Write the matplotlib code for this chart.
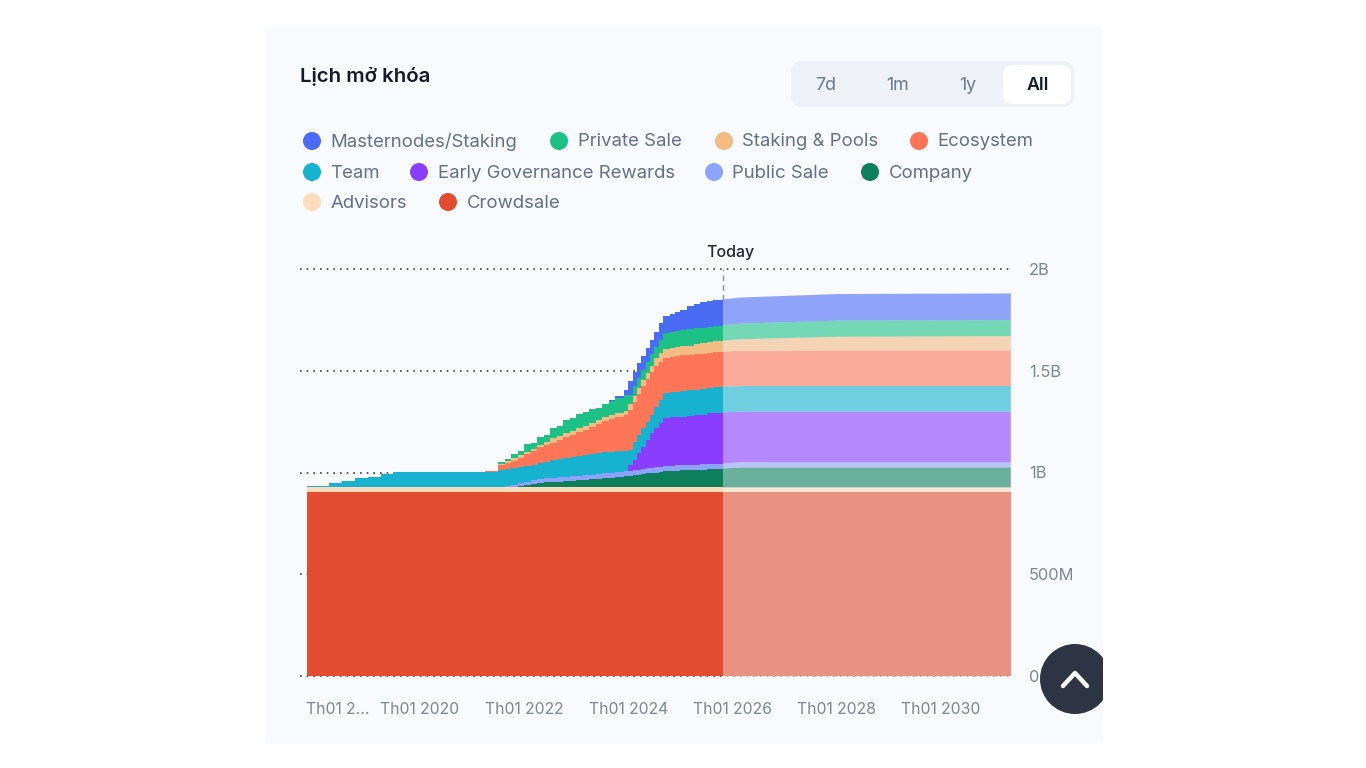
import matplotlib
matplotlib.use('Agg')
import matplotlib.pyplot as plt
import numpy as np
from matplotlib.patches import Circle, FancyBboxPatch, Rectangle
from matplotlib.transforms import ScaledTranslation

plt.rcParams['font.family'] = ['Inter', 'DejaVu Sans']

WIDTH, HEIGHT = 1366, 768
CARD_COLOR = '#F8FAFD'

# Dates as decimal years, values are unlocked tokens in millions
past_dates = [2017.83, 2018.25, 2018.5, 2018.75, 2019.0, 2019.25, 2019.5, 2021.25,
              2021.5, 2021.625, 2021.75, 2021.875, 2022.0, 2022.125, 2022.25, 2022.375, 2022.5, 2022.625,
              2022.75, 2022.875, 2023.0, 2023.125, 2023.25, 2023.375, 2023.5, 2023.625, 2023.75, 2023.92,
              2024.0, 2024.083, 2024.167, 2024.25, 2024.333, 2024.417, 2024.5, 2024.583, 2024.667,
              2024.8, 2024.9, 2025.0, 2025.12, 2025.25, 2025.38, 2025.5, 2025.63, 2025.81]
crowdsale_past = [904] * 46
advisors_past = [23] * 46
company_past = [0, 0, 0, 0, 0, 0, 0, 0,
                0, 2, 4, 7, 11, 16, 22, 24, 26, 28, 31, 33, 36, 38, 41, 43, 46, 48, 51, 56,
                58, 60, 63, 65, 69, 70, 73, 76, 79,
                81, 82, 83, 84, 85, 87, 90, 91, 93]
public_past = [0, 0, 0, 0, 0, 0, 0, 0,
               0, 3, 7, 12, 17, 19, 21, 21, 22, 22, 22, 22, 22, 22, 22, 23, 25, 25, 25, 22,
               22, 23, 24, 25, 25, 26, 26, 26, 26,
               26, 27, 27, 27, 27, 26, 25, 25, 24]
governance_past = [0, 0, 0, 0, 0, 0, 0, 0,
                   0, 0, 0, 0, 0, 0, 0, 0, 0, 0, 0, 0, 0, 0, 0, 0, 0, 0, 0, 0,
                   29, 51, 82, 110, 139, 171, 193, 215, 237,
                   237, 238, 238, 240, 243, 245, 248, 250, 252]
team_past = [6, 20, 32, 44, 52, 64, 75, 75,
             85, 86, 86, 82, 79, 77, 76, 81, 86, 88, 91, 93, 96, 98, 101, 101, 101, 102, 103, 103,
             74, 90, 88, 92, 90, 88, 105, 112, 121,
             123, 124, 125, 125, 125, 125, 125, 125, 126]
ecosystem_past = [0, 0, 0, 0, 0, 0, 0, 5,
                  25, 29, 33, 45, 57, 68, 79, 82, 85, 93, 101, 110, 118, 125, 133, 142, 152, 160, 167, 174,
                  197, 195, 201, 206, 210, 211, 200, 187, 172,
                  174, 176, 177, 175, 174, 173, 172, 172, 172]
staking_past = [0, 0, 0, 0, 0, 0, 0, 0,
                7, 10, 13, 12, 11, 10, 10, 16, 23, 22, 22, 21, 20, 20, 21, 21, 22, 21, 20, 21,
                29, 29, 29, 29, 29, 29, 39, 44, 44,
                44, 44, 44, 46, 49, 51, 54, 54, 54]
private_past = [0, 0, 0, 0, 0, 0, 0, 0,
                7, 11, 20, 21, 38, 30, 39, 33, 51, 50, 64, 60, 69, 65, 67, 62, 64, 68, 74, 77,
                44, 49, 49, 49, 54, 59, 54, 64, 79,
                79, 79, 79, 79, 79, 78, 76, 76, 77]
masternodes_past = [0, 0, 0, 0, 0, 0, 0, 0,
                    0, 0, 0, 0, 0, 0, 0, 0, 0, 0, 0, 0, 0, 0, 0, 0, 0, 4, 10, 25,
                    69, 69, 74, 69, 69, 69, 74, 84, 84,
                    88, 94, 98, 113, 118, 124, 125, 126, 126]

future_dates = [2025.81, 2026.17, 2028.0, 2031.34]
crowdsale_future = [904, 904, 904, 904]
advisors_future = [23, 23, 23, 23]
company_future = [93, 98, 98, 98]
public_future = [24, 25, 25, 25]
governance_future = [252, 249, 249, 249]
team_future = [126, 126, 126, 126]
ecosystem_future = [172, 173, 175, 175]
staking_future = [54, 57, 67, 70]
private_future = [77, 77, 79, 79]
masternodes_future = [126, 128, 131, 131]

today = 2025.81
series_colors = ['#E24D31', '#FDDCBE', '#0E7F5B', '#8DA2FB', '#8B3DFF',
                 '#16B2CF', '#FF7557', '#F3BC85', '#1DC186', '#4A6CF5']
x_ticks = [2018, 2020, 2022, 2024, 2026, 2028, 2030]
x_tick_labels = ['Th01 2...', 'Th01 2020', 'Th01 2022', 'Th01 2024', 'Th01 2026', 'Th01 2028', 'Th01 2030']
y_ticks = [0, 500, 1000, 1500, 2000]
y_tick_labels = ['0', '500M', '1B', '1.5B', '2B']

legend_rows = [
    [('Masternodes/Staking', '#4A6CF5', 312), ('Private Sale', '#1DC186', 559),
     ('Staking & Pools', '#F3BC85', 724), ('Ecosystem', '#FF7557', 919)],
    [('Team', '#16B2CF', 312), ('Early Governance Rewards', '#8B3DFF', 419),
     ('Public Sale', '#8DA2FB', 714), ('Company', '#0E7F5B', 870)],
    [('Advisors', '#FDDCBE', 312), ('Crowdsale', '#E24D31', 448)],
]
legend_row_y = [142, 173, 203]
range_buttons = [('7d', 826), ('1m', 898), ('1y', 968), ('All', 1038)]

fig = plt.figure(figsize=(WIDTH / 100, HEIGHT / 100), dpi=100, facecolor='white')


def pixel_axes(zorder):
    ax_pixel = fig.add_axes([0, 0, 1, 1], zorder=zorder)
    ax_pixel.set_xlim(0, WIDTH)
    ax_pixel.set_ylim(HEIGHT, 0)
    ax_pixel.axis('off')
    ax_pixel.patch.set_alpha(0)
    return ax_pixel


#  Card and header
ax_back = pixel_axes(0)
ax_back.add_patch(FancyBboxPatch((269, 30), 830, 710, boxstyle='round,pad=4,rounding_size=6',
                                 facecolor=CARD_COLOR, edgecolor='none'))
ax_back.text(300, 77, 'Lịch mở khóa', fontsize=14.7, fontweight=600, color='#131A29', va='center')
ax_back.add_patch(FancyBboxPatch((801, 71), 263, 26, boxstyle='round,pad=10,rounding_size=12',
                                 facecolor='#EEF1F5', edgecolor='none'))
ax_back.add_patch(FancyBboxPatch((1011, 73), 52, 23, boxstyle='round,pad=8,rounding_size=10',
                                 facecolor='white', edgecolor='none'))
for label, x in range_buttons:
    is_active = label == 'All'
    ax_back.text(x, 85, label, fontsize=12.8, ha='center', va='center',
                 fontweight=600 if is_active else 'normal',
                 color='#131A29' if is_active else '#6B778C')

#  Legend
for row, y in zip(legend_rows, legend_row_y):
    for label, color, x in row:
        ax_back.add_patch(Circle((x, y - 1), 9, facecolor=color, edgecolor='none'))
        ax_back.text(x + 18.5, y, label, fontsize=13.35, color='#63708A', va='center')

#  Chart: x from 300 to 1011 px, y from 269 to 676 px
ax = fig.add_axes([300 / WIDTH, 1 - 676 / HEIGHT, 711 / WIDTH, 407 / HEIGHT], zorder=1)
ax.patch.set_alpha(0)
ax.set_xlim(2017.697, 2031.344)
ax.set_ylim(0, 2000)
for spine in ax.spines.values():
    spine.set_visible(False)

for y_tick in y_ticks:
    ax.axhline(y_tick, color='#3A4252', linewidth=1.2, linestyle=(0, (1, 3)), zorder=1, clip_on=False)
ax.plot([today, today], [1850, 2000], color='#8A93A3', linewidth=1, linestyle=(0, (4, 3)), zorder=1)

past_stack = [crowdsale_past, advisors_past, company_past, public_past, governance_past,
              team_past, ecosystem_past, staking_past, private_past, masternodes_past]
future_stack = [crowdsale_future, advisors_future, company_future, public_future, governance_future,
                team_future, ecosystem_future, staking_future, private_future, masternodes_future]
ax.stackplot(past_dates, np.array(past_stack), colors=series_colors, step='post', linewidth=0, zorder=2)
#  Opaque backing so that the grid does not show through the faded part
ax.fill_between(future_dates, np.sum(future_stack, axis=0), color=CARD_COLOR, linewidth=0, zorder=2)
ax.stackplot(future_dates, np.array(future_stack), colors=series_colors, alpha=0.6, linewidth=0, zorder=3)

ax.set_xticks(x_ticks)
ax.set_xticklabels(x_tick_labels)
ax.yaxis.tick_right()
ax.set_yticks(y_ticks)
ax.set_yticklabels(y_tick_labels)
ax.tick_params(axis='x', length=0, pad=19, labelsize=11.35, labelcolor='#7B8698')
ax.tick_params(axis='y', length=0, pad=13, labelsize=11.8, labelcolor='#7B8698')
#  First label is truncated and starts at the left edge of the area
first_label = ax.get_xticklabels()[0]
first_label.set_ha('left')
first_label.set_transform(first_label.get_transform() + ScaledTranslation(-10 / 100, 0, fig.dpi_scale_trans))

#  Today label and scroll button on top
ax_front = pixel_axes(2)
ax_front.text(730, 253, 'Today', fontsize=11.5, fontweight=500, color='#1F2733', ha='center', va='center')
card_clip = Rectangle((265, 26), 838, 718, transform=ax_front.transData)
button = Circle((1075, 679), 35, facecolor='#2D3443', edgecolor='none')
ax_front.add_patch(button)
button.set_clip_path(card_clip)
ax_front.plot([1063, 1075, 1087], [686, 673, 686], color='white', linewidth=3.2,
              solid_capstyle='round', solid_joinstyle='round')

fig.savefig('out.png', dpi=100)
